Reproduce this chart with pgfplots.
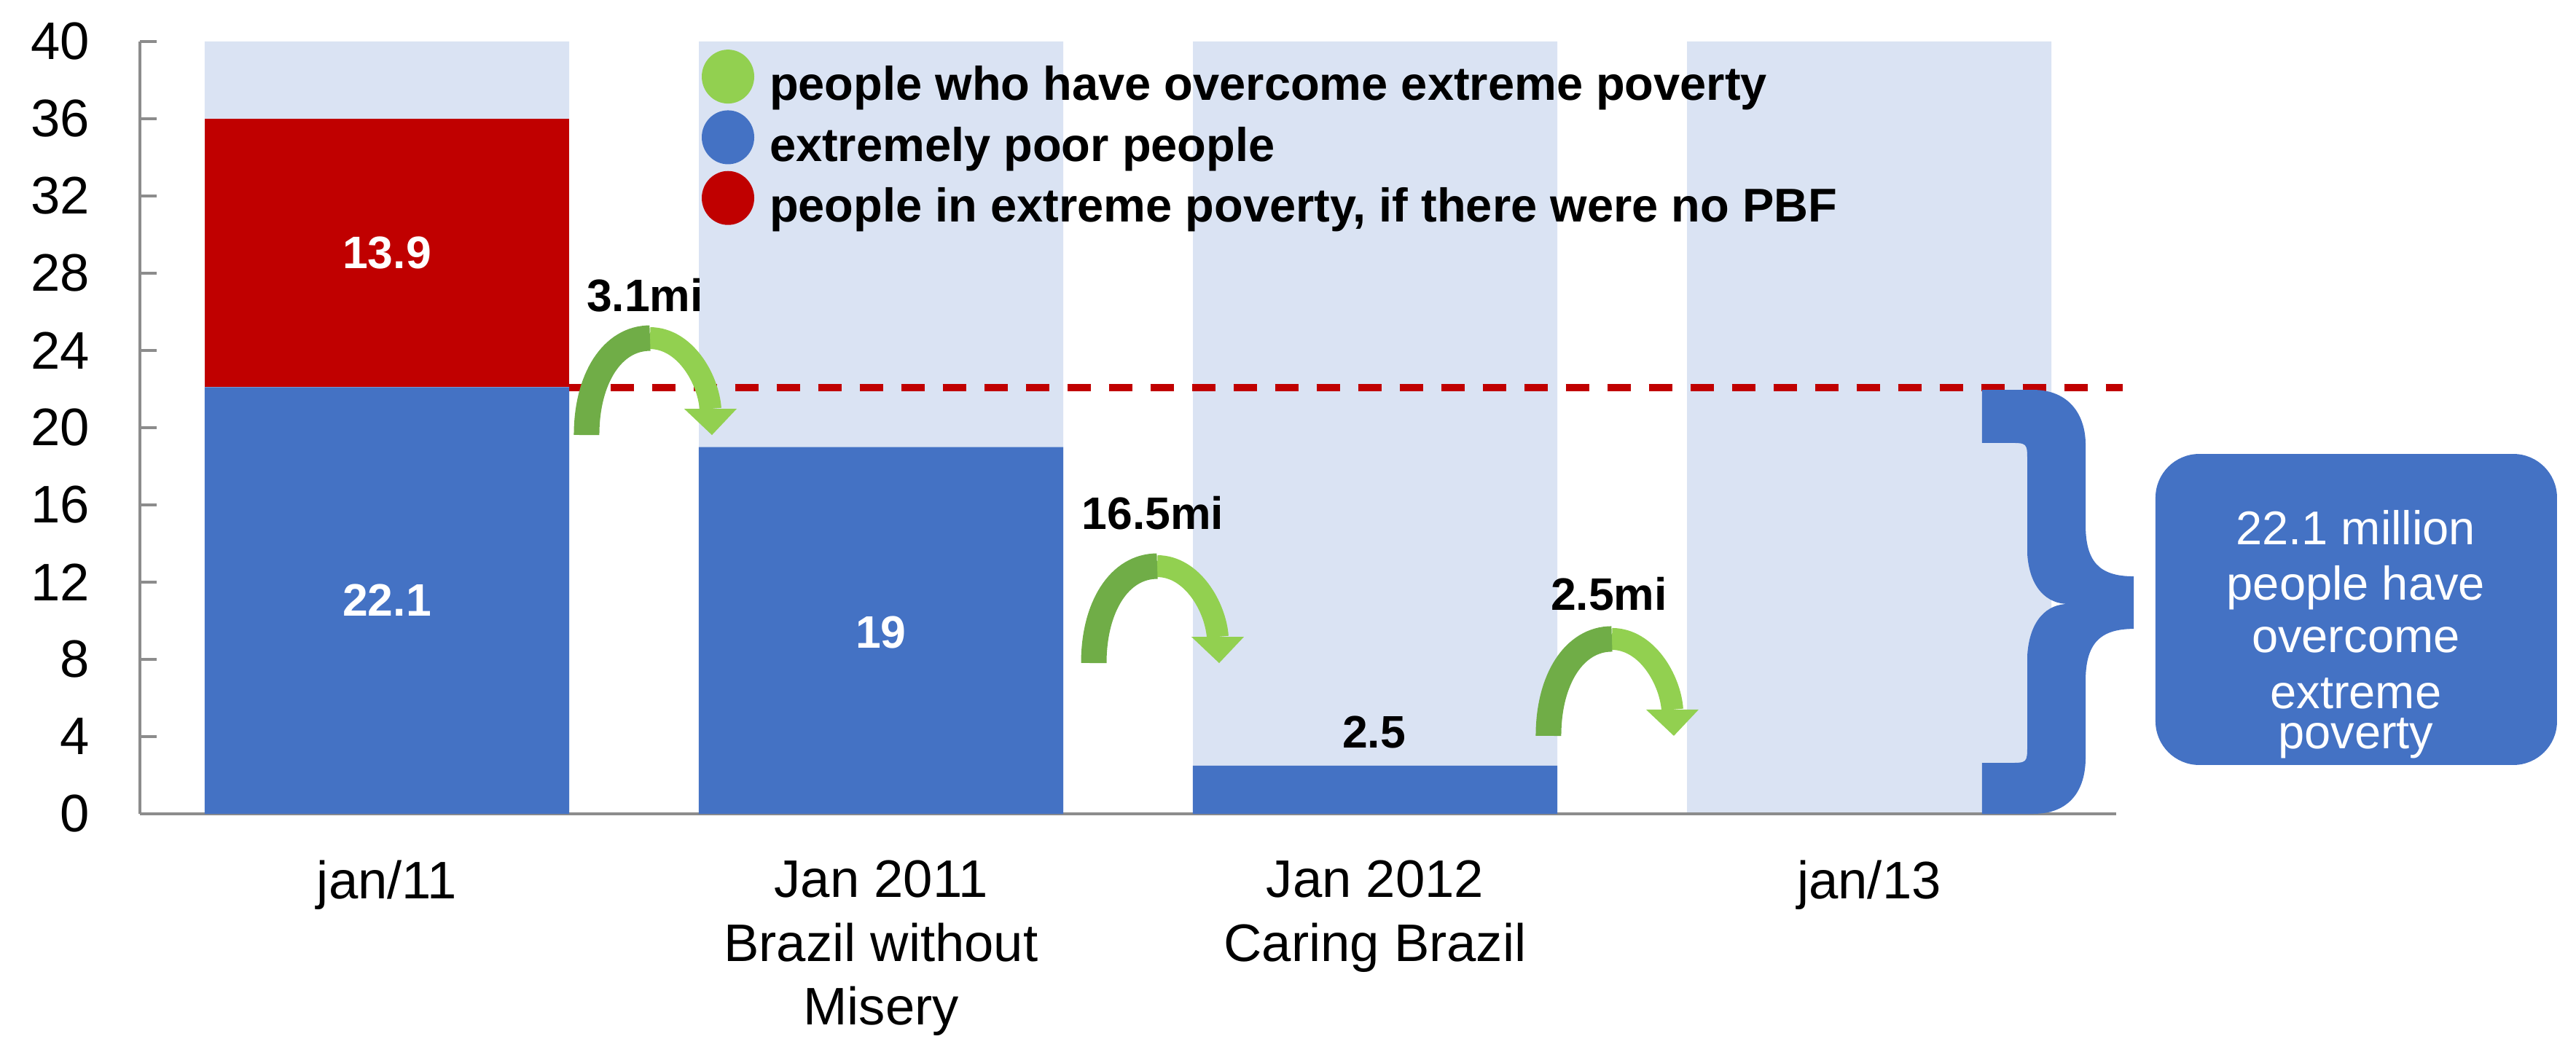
\documentclass[border=0pt]{standalone}
\usepackage{fontspec}
\setmainfont{Liberation Sans}
\usepackage{pgfplots}
\pgfplotsset{compat=1.18}
\definecolor{bgbar}{HTML}{DAE3F3}
\definecolor{barblue}{HTML}{4472C4}
\definecolor{barred}{HTML}{C00000}
\definecolor{dkgreen}{HTML}{70AD47}
\definecolor{ltgreen}{HTML}{92D050}
\definecolor{axgray}{HTML}{8C8C8C}
\pgfplotsset{common/.style={
  scale only axis, width=542.4pt, height=212pt,
  at={(0pt,0pt)}, anchor=south west,
  xmin=-0.5, xmax=3.5, ymin=0, ymax=40, enlargelimits=false}}
\begin{document}
\begin{tikzpicture}
\useasboundingbox (-38.4pt,-66pt) rectangle (668.6pt,223.4pt);
\begin{axis}[common, hide axis]
\addplot[ybar, bar width=100pt, bar shift=0pt, fill=bgbar, draw=none] coordinates {(0,40) (1,40) (2,40) (3,40)};
\end{axis}
\begin{axis}[common, ybar stacked, bar width=100pt, clip=false,
  axis x line*=bottom, axis y line*=left,
  axis line style={-, axgray, line width=0.8pt},
  xtick={0,1,2,3},
  xticklabels={jan/11, {Jan 2011\\Brazil without\\Misery}, {Jan 2012\\Caring Brazil}, jan/13},
  ytick={0,4,...,40},
  tick align=inside, major tick length=4.6pt,
  ytick style={axgray, line width=0.8pt},
  xtick style={draw=none},
  /pgf/number format/assume math mode=true,
  tick label style={font=\fontsize{14.5}{17.5}\selectfont},
  yticklabel style={inner sep=0pt, xshift=-13.6pt},
  xticklabel style={align=center, inner sep=0pt, yshift=-12.6pt},
  legend style={at={(axis cs:0.6372,39.58)}, anchor=north west, draw=none, fill=none,
    inner sep=0pt, outer sep=0pt, row sep=1.2pt,
    font=\bfseries\fontsize{13}{15}\selectfont,
    nodes={inner sep=0pt}},
  legend cell align=left,
]
\addplot[fill=barblue, draw=none, forget plot] coordinates {(0,22.1) (1,19) (2,2.5) (3,0)};
\addplot[fill=barred, draw=none, forget plot] coordinates {(0,13.9) (1,0) (2,0) (3,0)};

\addlegendimage{legend image code/.code={\fill[ltgreen] (7pt,2.6pt) ellipse [x radius=7pt, y radius=7.2pt]; \path (18.2pt,0pt);}}
\addlegendentry{people who have overcome extreme poverty}
\addlegendimage{legend image code/.code={\fill[barblue] (7pt,2.6pt) ellipse [x radius=7pt, y radius=7.2pt]; \path (18.2pt,0pt);}}
\addlegendentry{extremely poor people}
\addlegendimage{legend image code/.code={\fill[barred] (7pt,2.6pt) ellipse [x radius=7pt, y radius=7.2pt]; \path (18.2pt,0pt);}}
\addlegendentry{people in extreme poverty, if there were no PBF}

% anchor points for labels (drawn after the axis)
\coordinate (l139) at (axis cs:0,28.23);
\coordinate (l221) at (axis cs:0,10.26);
\coordinate (l19) at (axis cs:1,8.57);
\coordinate (t1) at (axis cs:3.985,13.96);
\coordinate (t2) at (axis cs:3.985,11.09);
\coordinate (t3) at (axis cs:3.985,8.34);
\coordinate (t4) at (axis cs:3.985,5.47);
\coordinate (t5) at (axis cs:3.985,3.36);

\node[anchor=base, inner sep=0pt, text=black, font=\bfseries\fontsize{12.5}{15}\selectfont] at (axis cs:1.998,3.40) {2.5};

% curved arrows
\draw[dkgreen, line width=7pt] (axis cs:0.4041,19.62) .. controls (axis cs:0.4041,22.526) and (axis cs:0.4557,24.639) .. (axis cs:0.5324,24.639);
\draw[ltgreen, line width=6pt] (axis cs:0.5324,24.639) .. controls (axis cs:0.6032,24.639) and (axis cs:0.6504,22.526) .. (axis cs:0.6548,20.978);
\fill[ltgreen] (axis cs:0.6017,20.978) -- (axis cs:0.7079,20.978) -- (axis cs:0.6578,19.62) -- cycle;

\draw[dkgreen, line width=7pt] (axis cs:1.4307,7.81) .. controls (axis cs:1.4307,10.716) and (axis cs:1.4823,12.829) .. (axis cs:1.5590,12.829);
\draw[ltgreen, line width=6pt] (axis cs:1.5590,12.829) .. controls (axis cs:1.6298,12.829) and (axis cs:1.6770,10.716) .. (axis cs:1.6814,9.168);
\fill[ltgreen] (axis cs:1.6283,9.168) -- (axis cs:1.7345,9.168) -- (axis cs:1.6844,7.81) -- cycle;

\draw[dkgreen, line width=7pt] (axis cs:2.3510,4.04) .. controls (axis cs:2.3510,6.946) and (axis cs:2.4026,9.059) .. (axis cs:2.4793,9.059);
\draw[ltgreen, line width=6pt] (axis cs:2.4793,9.059) .. controls (axis cs:2.5501,9.059) and (axis cs:2.5973,6.946) .. (axis cs:2.6017,5.398);
\fill[ltgreen] (axis cs:2.5486,5.398) -- (axis cs:2.6548,5.398) -- (axis cs:2.6047,4.04) -- cycle;

\node[anchor=base, inner sep=0pt, font=\bfseries\fontsize{12.5}{15}\selectfont] at (axis cs:0.5221,26.0) {3.1mi};
\node[anchor=base, inner sep=0pt, font=\bfseries\fontsize{12.5}{15}\selectfont] at (axis cs:1.550,14.72) {16.5mi};
\node[anchor=base, inner sep=0pt, font=\bfseries\fontsize{12.5}{15}\selectfont] at (axis cs:2.4735,10.53) {2.5mi};

% brace
\fill[barblue] (axis cs:3.2286,21.96) -- (axis cs:3.3319,21.96)
  .. controls (axis cs:3.4056,21.96) and (axis cs:3.4381,20.64) .. (axis cs:3.4381,19.13)
  -- (axis cs:3.4381,14.98)
  .. controls (axis cs:3.4381,13.09) and (axis cs:3.4646,12.30) .. (axis cs:3.5354,12.30)
  -- (axis cs:3.5354,9.58)
  .. controls (axis cs:3.4646,9.58) and (axis cs:3.4381,8.75) .. (axis cs:3.4381,6.87)
  -- (axis cs:3.4381,2.91)
  .. controls (axis cs:3.4381,1.21) and (axis cs:3.4056,0) .. (axis cs:3.3319,0)
  -- (axis cs:3.2286,0) -- (axis cs:3.2286,2.64) -- (axis cs:3.2832,2.64)
  .. controls (axis cs:3.3201,2.64) .. (axis cs:3.3201,3.58)
  -- (axis cs:3.3201,8.19)
  .. controls (axis cs:3.3245,10.08) and (axis cs:3.3614,10.87) .. (axis cs:3.4027,10.87)
  .. controls (axis cs:3.3614,10.87) and (axis cs:3.3245,11.66) .. (axis cs:3.3201,13.47)
  -- (axis cs:3.3201,18.26)
  .. controls (axis cs:3.3201,19.21) .. (axis cs:3.2832,19.21)
  -- (axis cs:3.2286,19.21) -- cycle;

% dashed reference line
\draw[barred, line width=2pt, dash pattern=on 6.4pt off 5pt] (axis cs:0.368,22.08) -- (axis cs:3.513,22.08);

% text box
\fill[barblue, rounded corners=12pt] (axis cs:3.5796,2.53) rectangle (axis cs:4.3923,18.64);
\end{axis}
% white labels on top of everything
\begin{scope}[every node/.style={anchor=base, inner sep=0pt}]
\node[font=\bfseries\fontsize{12.5}{15}\selectfont] at (l139) {\textcolor{white}{13.9}};
\node[font=\bfseries\fontsize{12.5}{15}\selectfont] at (l221) {\textcolor{white}{22.1}};
\node[font=\bfseries\fontsize{12.5}{15}\selectfont] at (l19) {\textcolor{white}{19}};
\node[font=\fontsize{13}{14}\selectfont] at (t1) {\textcolor{white}{22.1 million}};
\node[font=\fontsize{13}{14}\selectfont] at (t2) {\textcolor{white}{people have}};
\node[font=\fontsize{13}{14}\selectfont] at (t3) {\textcolor{white}{overcome}};
\node[font=\fontsize{13}{14}\selectfont] at (t4) {\textcolor{white}{extreme}};
\node[font=\fontsize{13}{14}\selectfont] at (t5) {\textcolor{white}{poverty}};
\end{scope}
\end{tikzpicture}
\end{document}
